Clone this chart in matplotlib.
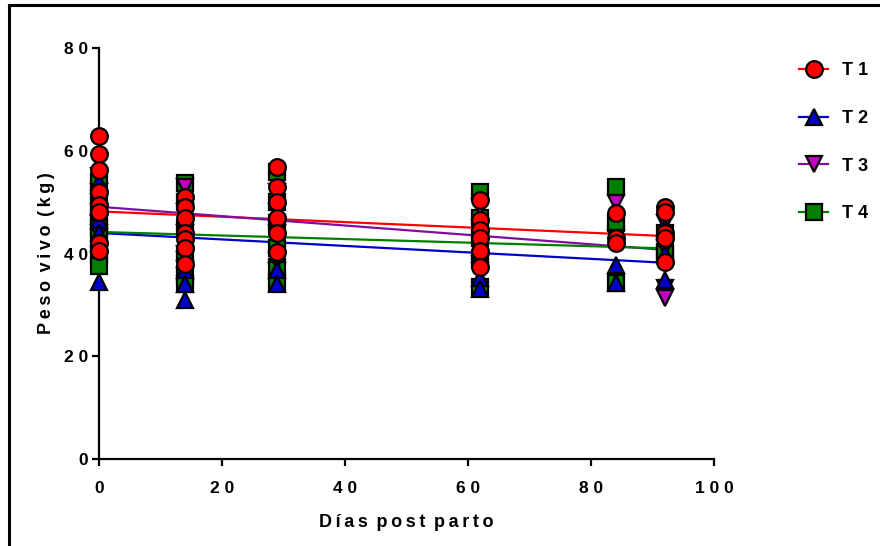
import matplotlib
matplotlib.use("Agg")
import matplotlib.pyplot as plt
from matplotlib.lines import Line2D
import numpy as np

plt.rcParams['font.family'] = ['Liberation Sans', 'DejaVu Sans']
plt.rcParams['font.weight'] = 'bold'

# ---------------- data ----------------
treatments = ["T 1", "T 2", "T 3", "T 4"]
days = [0, 14, 29, 62, 84, 92]

t1_values = {
    0: [62.8, 59.3, 56.3, 52.0, 49.5, 48.0, 42.0, 40.5],
    14: [51.0, 49.0, 47.0, 44.0, 42.8, 41.0, 38.0],
    29: [56.8, 53.0, 50.0, 47.0, 44.0, 40.3],
    62: [50.4, 46.5, 44.5, 43.0, 40.5, 37.4],
    84: [47.9, 43.0, 42.0],
    92: [49.0, 48.0, 44.0, 43.0, 38.3],
}
t2_values = {
    0: [54.0, 49.0, 46.5, 44.0, 42.0, 34.5],
    14: [42.0, 39.0, 36.8, 34.0, 31.0],
    29: [40.0, 36.8, 34.0],
    62: [40.0, 35.2, 33.0],
    84: [37.7, 34.3],
    92: [45.0, 40.0, 34.8],
}
t3_values = {
    0: [55.0, 52.0, 50.0, 48.0, 46.0, 44.0],
    14: [53.0, 48.0, 44.0, 40.0, 37.0],
    29: [52.0, 48.0, 44.0, 38.5],
    62: [49.0, 45.0, 42.0, 38.0],
    84: [49.8, 43.0],
    92: [46.0, 41.0, 33.3, 31.3],
}
t4_values = {
    0: [54.0, 50.0, 47.0, 45.0, 43.0, 40.0, 37.5],
    14: [53.7, 50.0, 45.0, 40.0, 36.0, 34.0],
    29: [55.8, 50.0, 46.0, 41.0, 37.4, 34.2],
    62: [52.0, 47.0, 43.0, 39.0, 33.5],
    84: [53.0, 46.0, 34.2],
    92: [44.0, 40.3, 40.0],
}

# linear regression lines (value at day 0, value at day 92)
fit_x = [0, 92]
t1_fit = [48.2, 43.4]
t2_fit = [44.0, 38.2]
t3_fit = [49.1, 40.7]
t4_fit = [44.2, 41.0]

x_ticks = [0, 20, 40, 60, 80, 100]
x_ticklabels = ["0", "2 0", "4 0", "6 0", "8 0", "1 0 0"]
y_ticks = [0, 20, 40, 60, 80]
y_ticklabels = ["0", "2 0", "4 0", "6 0", "8 0"]

# ---------------- styles ----------------
styles = {
    "T 1": dict(marker="o", face="#FF0000", line="#FF0000"),
    "T 2": dict(marker="^", face="#0000CC", line="#0000CC"),
    "T 3": dict(marker="v", face="#BF00BF", line="#7F0F9F"),
    "T 4": dict(marker="s", face="#007F00", line="#007F00"),
}
series = {"T 1": t1_values, "T 2": t2_values, "T 3": t3_values, "T 4": t4_values}
fits = {"T 1": t1_fit, "T 2": t2_fit, "T 3": t3_fit, "T 4": t4_fit}
zorders = {"T 1": 10, "T 2": 9, "T 3": 8, "T 4": 7}
msize = {"o": 12, "^": 12, "v": 12, "s": 11}

fig = plt.figure(figsize=(8.8, 5.46), dpi=100)
ax = fig.add_axes([99/880, 1-459/546, (714-99)/880, (459-48)/546])

for name in treatments:
    st = styles[name]
    ax.plot(fit_x, fits[name], color=st["line"], lw=1.6, zorder=3)

for name in reversed(treatments):
    st = styles[name]
    xs, ys = [], []
    for d in days:
        for v in series[name][d]:
            xs.append(d)
            ys.append(v)
    ax.plot(xs, ys, linestyle="none", marker=st["marker"], markersize=msize[st["marker"]],
            markerfacecolor=st["face"], markeredgecolor="black", markeredgewidth=1.6,
            zorder=zorders[name], clip_on=False)

ax.set_xlim(0, 100)
ax.set_ylim(0, 80)
for s in ["top", "right"]:
    ax.spines[s].set_visible(False)
for s in ["left", "bottom"]:
    ax.spines[s].set_linewidth(1.6)
    ax.spines[s].set_zorder(2)
ax.set_xticks(x_ticks)
ax.set_xticklabels(x_ticklabels)
ax.set_yticks(y_ticks)
ax.set_yticklabels(y_ticklabels)
ax.tick_params(axis="both", direction="out", length=5, width=1.6, labelsize=12.5)
ax.tick_params(axis="x", pad=11)
ax.tick_params(axis="y", pad=3)
for lab in ax.get_xticklabels() + ax.get_yticklabels():
    lab.set_fontweight("bold")

ts = "\u2009"
def spaced(text):
    words = text.split(" ")
    return (" " + ts).join(ts.join(w) for w in words)

ax.set_xlabel(spaced("Días post parto"), fontsize=13, fontweight="bold", labelpad=13)
ax.set_ylabel(spaced("Peso vivo (kg)"), fontsize=13, fontweight="bold", labelpad=6)

handles = []
for name in treatments:
    st = styles[name]
    handles.append(Line2D([0], [0], color=st["line"], lw=1.6, marker=st["marker"],
                          markersize=msize[st["marker"]], markerfacecolor=st["face"],
                          markeredgecolor="black", markeredgewidth=1.6))
leg = fig.legend(handles, treatments, loc="upper left", bbox_to_anchor=(783/880, 1-46/546),
                 frameon=False, handlelength=1.6, handletextpad=0.75, labelspacing=1.7,
                 prop=dict(size=13, weight="bold"))

# outer partial frame
fig.add_artist(Line2D([9/880, 9/880], [0, 1-5/546], transform=fig.transFigure, color="black", lw=2.2))
fig.add_artist(Line2D([9/880, 1], [1-5/546, 1-5/546], transform=fig.transFigure, color="black", lw=2.2))

fig.savefig("out.png", dpi=100)
